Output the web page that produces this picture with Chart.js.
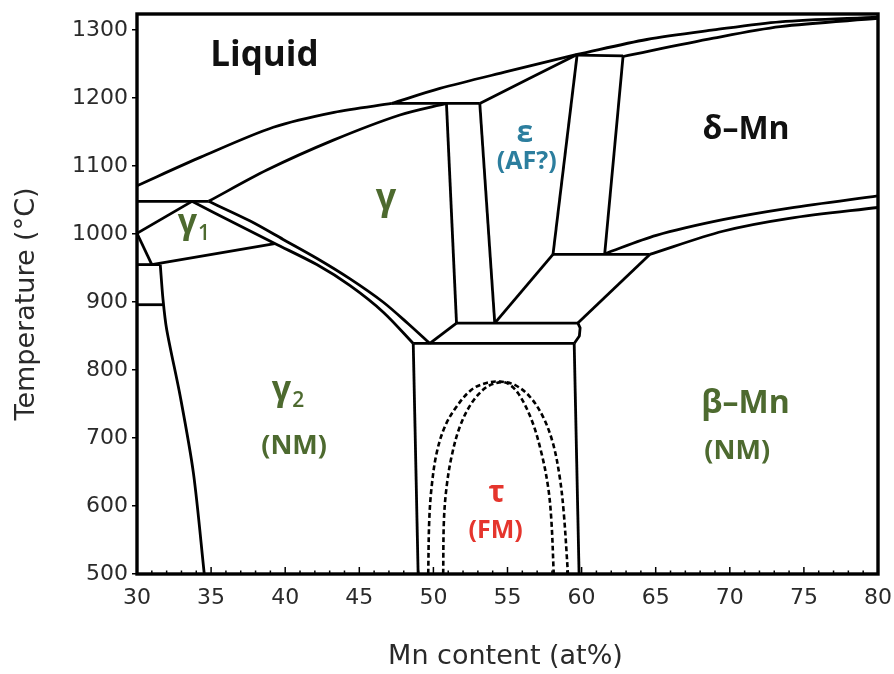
<!DOCTYPE html>
<html><head><meta charset="utf-8">
<script src="https://cdn.jsdelivr.net/npm/chart.js@4.4.1/dist/chart.umd.min.js"></script>
<style>html,body{margin:0;padding:0;background:#fff;}#wrap{width:894px;height:674px;}</style>
</head><body><div id="wrap"><canvas id="c" width="894" height="674"></canvas></div>
<script>
// ---- tick labels ----
const xTickValues = [30,35,40,45,50,55,60,65,70,75,80];
const yTickValues = [500,600,700,800,900,1000,1100,1200,1300];

// ---- phase boundaries (Mn at%, T °C) ----
const liquidusGamma   = [[30,1071],[34.3,1113],[39.2,1157],[43.3,1179],[47.2,1192]];
const liquidusEps     = [[47.2,1192],[50.44,1214],[55,1239],[59.7,1264]];
const liquidusDelta   = [[59.7,1264],[64.4,1286],[68.9,1300],[73.4,1312],[80,1319]];
const solidusGamma    = [[34.83,1048],[38.76,1094],[43.25,1138],[47.74,1175],[50.88,1192]];
const peritectic1192  = [[47.2,1192],[53.13,1192]];
const solidusEps      = [[53.13,1192],[56.4,1228],[59.7,1264]];
const peritectic1262  = [[59.7,1263],[62.8,1262]];
const solidusDelta    = [[62.8,1261],[68.9,1288],[73.4,1305],[80,1317]];
const line1048        = [[30,1048],[34.83,1048]];
const gamma1Left      = [[30,1001],[33.71,1048]];
const gamma1LeftLow   = [[30,1001],[31.0,955]];
const gamma1Bottom    = [[31.0,955],[39.3,986]];
const line955         = [[30,955],[31.57,955]];
const line896         = [[30,896],[31.79,896]];
const gamma2Boundary  = [[31.57,955],[31.75,905],[32.0,860],[32.92,761],[33.81,648],[34.54,500]];
const gammaLowerBand  = [[33.71,1048],[36.5,1017],[39.3,986],[42.13,955],[44.38,924],[46.62,885],[48.64,839]];
const gammaUpperBand  = [[34.83,1048],[37.64,1019],[39.86,992],[42.15,964],[44.38,934],[46.6,900],[48.3,868],[49.76,839]];
const gammaRight      = [[50.88,1192],[51.56,869]];
const epsLeft         = [[53.13,1192],[54.14,869]];
const epsRight        = [[58.07,970],[59.7,1264]];
const deltaLeft       = [[61.56,971],[62.8,1262]];
const eutectoid839    = [[48.64,839],[59.5,839]];
const eutectoidSlope  = [[49.76,839],[51.56,869]];
const line869         = [[51.56,869],[59.75,869],[59.9,862],[59.85,850],[59.5,839]];
const epsBetaSlope    = [[54.14,869],[58.07,970]];
const line970         = [[58.07,970],[64.6,970]];
const betaSlope       = [[64.6,970],[59.75,869]];
const deltaLowerA     = [[61.56,971],[65.04,998],[69.53,1021],[74.02,1038],[80,1056]];
const deltaLowerB     = [[64.6,970],[69.53,1004],[74.02,1023],[80,1039]];
const tauLeft         = [[48.64,839],[48.97,500]];
const tauRight        = [[59.5,839],[59.83,500]];
// magnetic (dashed) curves inside tau
const tauOuter = [[49.65,500],[49.72,579],[49.88,628],[50.22,678],[50.78,717],[51.56,746],[52.57,771],[53.58,781],[54.48,783],[55.49,778],[56.5,761],[57.4,731],[58.07,692],[58.52,643],[58.8,589],[59.08,500]];
const tauInner = [[50.66,500],[50.71,579],[50.89,628],[51.23,673],[51.79,717],[52.57,751],[53.47,773],[54.26,781],[54.93,781],[55.71,766],[56.62,727],[57.29,678],[57.74,628],[57.96,579],[58.12,500]];

// ---- region labels (text, Mn at%, T °C) ----
const labelLiquid = ['Liquid', 38.6, 1262];
const labelGamma  = ['γ', 46.8, 1052];
const labelGamma1 = ['γ', '1', 33.4, 1015];
const labelGamma2 = ['γ', '2', 39.75, 770];
const labelNM1    = ['(NM)', 40.6, 688];
const labelEps    = ['ε', 56.17, 1148];
const labelAF     = ['(AF?)', 56.3, 1106];
const labelDelta  = ['δ–Mn', 71.1, 1153];
const labelBeta   = ['β–Mn', 71.06, 750];
const labelNM2    = ['(NM)', 70.5, 681];
const labelTau    = ['τ', 54.26, 618];
const labelFM     = ['(FM)', 54.2, 563];

const GREEN = '#4d6a2f', BLUE = '#2c7e9e', RED = '#e5352d', BLACK = '#111';

const solid = [liquidusGamma, liquidusEps, liquidusDelta, solidusGamma, peritectic1192, solidusEps,
  peritectic1262, solidusDelta, line1048, gamma1Left, gamma1LeftLow, gamma1Bottom, line955, line896,
  gamma2Boundary, gammaLowerBand, gammaUpperBand, gammaRight, epsLeft, epsRight, deltaLeft,
  eutectoid839, eutectoidSlope, line869, epsBetaSlope, line970, betaSlope, deltaLowerA, deltaLowerB,
  tauLeft, tauRight];
const curved = new Set([liquidusGamma, liquidusEps, liquidusDelta, solidusGamma, solidusDelta,
  gamma2Boundary, gammaLowerBand, gammaUpperBand, deltaLowerA, deltaLowerB]);

const toXY = arr => arr.map(p => ({x:p[0], y:p[1]}));
const datasets = solid.map(arr => ({
  data: toXY(arr), showLine:true, borderColor:'#000', borderWidth:2.8, pointRadius:0,
  tension: curved.has(arr) ? 0.3 : 0, fill:false, borderJoinStyle:'round'
}));
[tauOuter, tauInner].forEach(arr => datasets.push({
  data: toXY(arr), showLine:true, borderColor:'#000', borderWidth:2.6, pointRadius:0,
  borderDash:[5,3], tension:0.35, fill:false
}));

const framePlugin = {
  id:'frame',
  afterDatasetsDraw(chart){
    const {ctx, chartArea:a, scales:{x, y}} = chart;
    ctx.save();
    ctx.strokeStyle = '#000';
    ctx.lineWidth = 1.5;
    for (let v = 30; v <= 80; v += 1) {
      const px = x.getPixelForValue(v);
      const major = xTickValues.includes(v);
      ctx.beginPath();
      ctx.moveTo(px, a.bottom);
      ctx.lineTo(px, a.bottom - (major ? 7 : 3.5));
      ctx.stroke();
    }
    ctx.lineWidth = 3.4;
    ctx.strokeRect(a.left, a.top, a.right - a.left, a.bottom - a.top);

    const put = (txt, xv, yv, color, size) => {
      ctx.font = 'bold ' + size + 'px "Open Sans", "DejaVu Sans", sans-serif';
      ctx.fillStyle = color;
      ctx.textAlign = 'center';
      ctx.textBaseline = 'middle';
      ctx.fillText(txt, x.getPixelForValue(xv), y.getPixelForValue(yv));
    };
    const putSub = (lab, color, size) => {
      const px = x.getPixelForValue(lab[2]), py = y.getPixelForValue(lab[3]);
      ctx.fillStyle = color;
      ctx.textBaseline = 'middle';
      ctx.textAlign = 'center';
      ctx.font = 'bold ' + size + 'px "Open Sans", sans-serif';
      ctx.fillText(lab[0], px, py);
      const w = ctx.measureText(lab[0]).width;
      ctx.textAlign = 'left';
      ctx.font = '600 ' + Math.round(size*0.62) + 'px "Open Sans", sans-serif';
      ctx.fillText(lab[1], px + w/2 + 1, py + size*0.3);
    };
    put(labelLiquid[0], labelLiquid[1], labelLiquid[2], BLACK, 35);
    put(labelGamma[0], labelGamma[1], labelGamma[2], GREEN, 36);
    putSub(labelGamma1, GREEN, 34);
    putSub(labelGamma2, GREEN, 34);
    put(labelNM1[0], labelNM1[1], labelNM1[2], GREEN, 27);
    put(labelEps[0], labelEps[1], labelEps[2], BLUE, 30);
    put(labelAF[0], labelAF[1], labelAF[2], BLUE, 25);
    put(labelDelta[0], labelDelta[1], labelDelta[2], BLACK, 32);
    put(labelBeta[0], labelBeta[1], labelBeta[2], GREEN, 32);
    put(labelNM2[0], labelNM2[1], labelNM2[2], GREEN, 27);
    put(labelTau[0], labelTau[1], labelTau[2], RED, 30);
    put(labelFM[0], labelFM[1], labelFM[2], RED, 25);

    ctx.fillStyle = '#2a2a2a';
    ctx.font = '27px "DejaVu Sans", sans-serif';
    ctx.textAlign = 'center';
    ctx.textBaseline = 'middle';
    ctx.fillText('Mn content (at%)', (a.left + a.right)/2 - 2, 657);
    ctx.translate(27, (a.top + a.bottom)/2 + 10);
    ctx.rotate(-Math.PI/2);
    ctx.fillText('Temperature (°C)', 0, 0);
    ctx.restore();
  }
};

new Chart(document.getElementById('c'), {
  type:'scatter',
  data:{datasets},
  options:{
    responsive:false, animation:false, devicePixelRatio:1,
    layout:{padding:{top:14, right:16, left:0, bottom:0}},
    plugins:{legend:{display:false}, tooltip:{enabled:false}},
    scales:{
      x:{
        type:'linear', min:30, max:80,
        afterBuildTicks: s => { s.ticks = xTickValues.map(v => ({value:v})); },
        afterFit: s => { s.height = 100; s.paddingLeft = 0; s.paddingRight = 0; },
        grid:{display:false, drawTicks:false}, border:{display:false},
        ticks:{font:{family:'DejaVu Sans', size:22}, color:'#2a2a2a', padding:11, maxRotation:0, autoSkip:false,
               callback: v => String(v)}
      },
      y:{
        type:'linear', min:500, max:1323.5,
        afterBuildTicks: s => { s.ticks = yTickValues.map(v => ({value:v})); },
        afterFit: s => { s.width = 137; s.paddingTop = 0; s.paddingBottom = 0; },
        grid:{drawOnChartArea:false, drawTicks:true, tickLength:5, color:'#000', lineWidth:1.5}, border:{display:false},
        ticks:{font:{family:'DejaVu Sans', size:22}, color:'#2a2a2a', padding:4, autoSkip:false,
               callback: v => String(v)}
      }
    }
  },
  plugins:[framePlugin]
});
</script></body></html>
